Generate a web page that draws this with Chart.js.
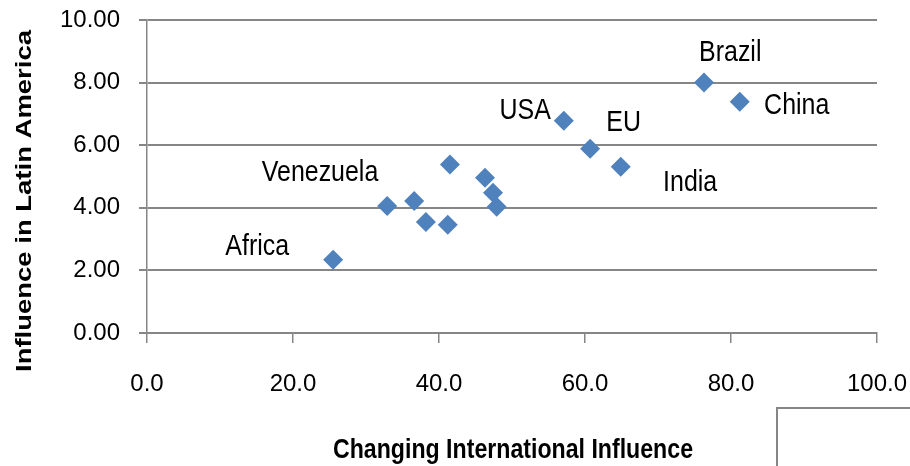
<!DOCTYPE html>
<html>
<head>
<meta charset="utf-8">
<script src="https://cdn.jsdelivr.net/npm/chart.js@4/dist/chart.umd.min.js"></script>
<style>
  html, body { margin: 0; padding: 0; background: #ffffff; }
  #wrap { width: 910px; height: 466px; }
</style>
</head>
<body>
<div id="wrap"><canvas id="c" width="910" height="466"></canvas></div>
<script>
// ---- data ----
const xValues = [25.5, 32.9, 36.6, 38.2, 41.2, 41.5, 46.3, 47.4, 47.9, 57.1, 60.7, 64.9, 76.3, 81.2];
const yValues = [2.34, 4.06, 4.22, 3.55, 3.46, 5.38, 4.96, 4.48, 4.03, 6.78, 5.89, 5.31, 8.00, 7.39];
const labelNames = ['Africa', 'Venezuela', 'USA', 'EU', 'India', 'Brazil', 'China'];
const labelX = [15.1, 23.7, 51.8, 65.3, 74.4, 79.9, 89.0];
const labelY = [2.75, 5.11, 7.09, 6.71, 4.79, 8.95, 7.25];
const xTitle = 'Changing International Influence';
const yTitle = 'Influence in Latin America';
const xMin = 0, xMax = 100, xStep = 20;
const yMin = 0, yMax = 10, yStep = 2;

const GRID = '#868686';
const SANS = '"Liberation Sans", Arial, sans-serif';

function condensedText(ctx, text, x, y, font, squeeze, rotate) {
  ctx.save();
  ctx.translate(x, y);
  if (rotate) ctx.rotate(rotate);
  ctx.font = font;
  ctx.scale(squeeze, 1);
  ctx.fillText(text, 0, 0);
  ctx.restore();
}

const overlay = {
  id: 'overlay',
  afterDatasetsDraw(chart) {
    const { ctx, scales: { x, y } } = chart;
    ctx.save();
    ctx.fillStyle = '#000';
    ctx.textAlign = 'center';
    ctx.textBaseline = 'middle';
    labelNames.forEach((n, i) => {
      condensedText(ctx, n, x.getPixelForValue(labelX[i]), y.getPixelForValue(labelY[i]),
        '29px ' + SANS, 0.86, 0);
    });
    // x axis title (condensed look)
    ctx.font = 'bold 28px ' + SANS;
    const wx = ctx.measureText(xTitle).width;
    condensedText(ctx, xTitle, (x.left + x.right) / 2 + 1, 450, 'bold 28px ' + SANS, 360 / wx, 0);
    // y axis title (stretched look)
    ctx.font = 'bold 22px ' + SANS;
    const wy = ctx.measureText(yTitle).width;
    condensedText(ctx, yTitle, 25, 201, 'bold 22px ' + SANS, 342 / wy, -Math.PI / 2);
    // stray box frame at bottom right
    ctx.strokeStyle = GRID;
    ctx.lineWidth = 2;
    ctx.beginPath();
    ctx.moveTo(777, 466);
    ctx.lineTo(777, 408);
    ctx.lineTo(910, 408);
    ctx.stroke();
    ctx.restore();
  }
};

new Chart(document.getElementById('c'), {
  type: 'scatter',
  data: {
    datasets: [{
      label: 'Influence',
      data: xValues.map((v, i) => ({ x: v, y: yValues[i] })),
      pointStyle: 'rectRot',
      pointRadius: 10,
      pointHoverRadius: 10,
      pointBackgroundColor: '#4F81BD',
      pointBorderColor: '#4F81BD',
      pointBorderWidth: 0,
      showLine: false
    }]
  },
  options: {
    responsive: false,
    animation: false,
    devicePixelRatio: 1,
    layout: { padding: { top: 20, right: 33, left: 0, bottom: 0 } },
    plugins: { legend: { display: false }, tooltip: { enabled: false } },
    scales: {
      x: {
        type: 'linear',
        min: xMin, max: xMax,
        afterFit(s) { s.height = 133; s.paddingLeft = 0; s.paddingRight = 0; },
        ticks: {
          stepSize: xStep,
          color: '#000',
          font: { family: SANS, size: 24, lineHeight: 1 },
          padding: 29,
          maxRotation: 0,
          callback: v => Number(v).toFixed(1)
        },
        grid: { drawOnChartArea: false, drawTicks: true, tickLength: 10, color: GRID, lineWidth: 1.5 },
        border: { display: true, color: GRID, width: 1.5 },
        title: { display: false }
      },
      y: {
        type: 'linear',
        min: yMin, max: yMax,
        afterFit(s) { s.width = 147; s.paddingTop = 0; s.paddingBottom = 0; },
        ticks: {
          stepSize: yStep,
          color: '#000',
          font: { family: SANS, size: 24, lineHeight: 1 },
          padding: 19,
          callback: v => Number(v).toFixed(2)
        },
        grid: { drawOnChartArea: true, drawTicks: true, tickLength: 8, color: GRID, lineWidth: 2 },
        border: { display: true, color: GRID, width: 1.5 },
        title: { display: false }
      }
    }
  },
  plugins: [overlay]
});
</script>
</body>
</html>
